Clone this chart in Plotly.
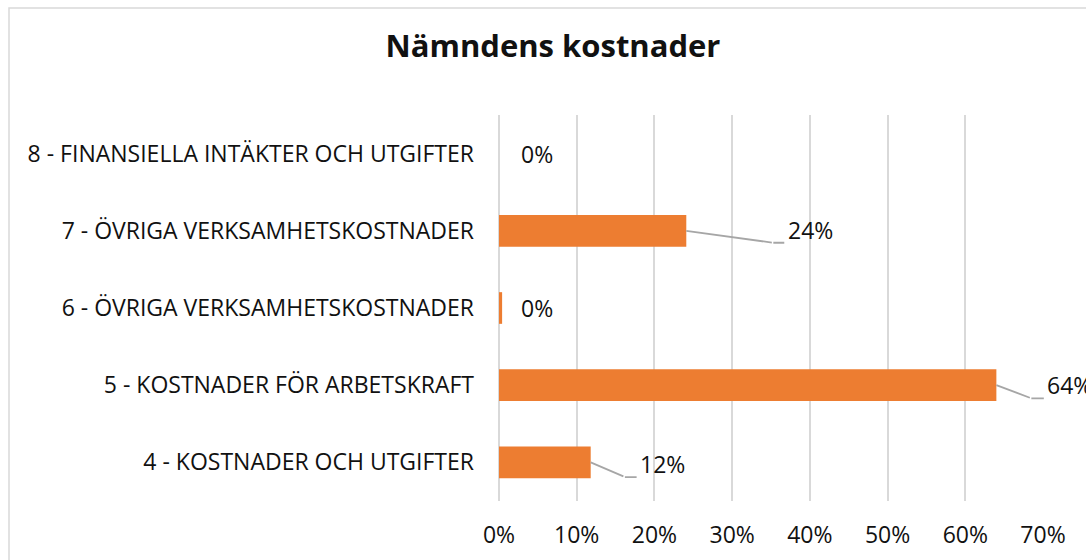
import plotly.graph_objects as go

# ---- data ----
categories = [
    "4 - KOSTNADER OCH UTGIFTER",
    "5 - KOSTNADER FÖR ARBETSKRAFT",
    "6 - ÖVRIGA VERKSAMHETSKOSTNADER",
    "7 - ÖVRIGA VERKSAMHETSKOSTNADER",
    "8 - FINANSIELLA INTÄKTER OCH UTGIFTER",
]
values = [0.118, 0.640, 0.004, 0.241, 0.0]
x_ticks = [0.0, 0.1, 0.2, 0.3, 0.4, 0.5, 0.6, 0.7]
x_tick_labels = ["0%", "10%", "20%", "30%", "40%", "50%", "60%", "70%"]
title_text = "Nämndens kostnader"

# ---- styling / label placement (offsets from bar end, axis units) ----
# (elbow_dx, label_dx, dy); None elbow -> no leader line
label_layout = [
    (0.044, 0.061, -0.19),
    (0.045, 0.063, -0.17),
    (None, 0.022, 0.0),
    (0.112, 0.128, -0.155),
    (None, 0.026, 0.0),
]

W, H = 1086, 560
ML, MR, MT, MB = 499, 43, 115, 59
X_MAX = 0.7
FONT = "Open Sans"
FS = 23
BAR_COLOR = "#ED7D31"
GRID = "#d9d9d9"
LEADER = "#a6a6a6"
TEXT = "#111111"

pw = W - ML - MR
ph = H - MT - MB
px_per_unit = pw / X_MAX

ypos = list(range(len(categories)))

fig = go.Figure()
fig.add_trace(go.Bar(
    x=values, y=ypos, orientation="h",
    marker=dict(color=BAR_COLOR, line=dict(width=0)),
    width=0.41, hoverinfo="skip",
))

annotations = []
for v, yc, (edx, ldx, dy) in zip(values, ypos, label_layout):
    txt = f"{round(v * 100)}%"
    if edx is not None:
        ex, ey = v + edx, yc + dy
        lx = v + ldx
        # diagonal segment: bar end -> elbow
        annotations.append(dict(x=v, y=yc, ax=ex, ay=ey, xref="x", yref="y",
                                axref="x", ayref="y", text="", showarrow=True,
                                arrowhead=0, arrowwidth=1.8, arrowcolor=LEADER,
                                standoff=0, startstandoff=0))
        # horizontal segment: elbow -> label
        annotations.append(dict(x=ex, y=ey, ax=lx, ay=ey, xref="x", yref="y",
                                axref="x", ayref="y", text="", showarrow=True,
                                arrowhead=0, arrowwidth=1.8, arrowcolor=LEADER,
                                standoff=0, startstandoff=0))
        annotations.append(dict(x=ex, y=ey, xref="x", yref="y", text=txt,
                                showarrow=False, xanchor="left", yanchor="bottom",
                                xshift=(ldx - edx) * px_per_unit, yshift=-5,
                                font=dict(family=FONT, size=FS, color=TEXT)))
    else:
        annotations.append(dict(x=v + ldx, y=yc, xref="x", yref="y", text=txt,
                                showarrow=False, xanchor="left", yanchor="middle",
                                font=dict(family=FONT, size=FS, color=TEXT)))

def px_x(p):
    return (p - ML) / pw
def px_y(p):
    return 1 - (p - MT) / ph

fig.update_layout(
    width=W, height=H,
    margin=dict(l=ML, r=MR, t=MT, b=MB, autoexpand=False),
    paper_bgcolor="white", plot_bgcolor="white",
    showlegend=False,
    title=dict(text=f"<b>{title_text}</b>", x=553 / W, xref="container", xanchor="center",
               y=1 - 46 / H, yanchor="middle",
               font=dict(family=FONT, size=31, color=TEXT)),
    font=dict(family=FONT, color=TEXT),
    xaxis=dict(range=[0, X_MAX], tickvals=x_ticks, ticktext=x_tick_labels,
               showgrid=True, gridcolor=GRID, gridwidth=1.5,
               zeroline=True, zerolinecolor=GRID, zerolinewidth=1.5,
               showline=False, ticks="", ticklabelstandoff=18,
               tickfont=dict(family=FONT, size=FS, color=TEXT), fixedrange=True),
    yaxis=dict(range=[-0.5, len(categories) - 0.5], tickvals=ypos, ticktext=categories,
               showgrid=False, zeroline=False, showline=False, ticks="",
               ticklabelstandoff=24,
               tickfont=dict(family=FONT, size=FS, color=TEXT), fixedrange=True),
    annotations=annotations,
    shapes=[dict(type="rect", xref="paper", yref="paper",
                 x0=px_x(9), x1=px_x(W + 50), y0=px_y(H + 50), y1=px_y(8),
                 line=dict(color=GRID, width=1.5), fillcolor="rgba(0,0,0,0)",
                 layer="below")],
)

fig.write_html("out.html", config={"displayModeBar": False},
               post_script="document.body.style.margin='0';document.body.style.overflow='hidden';")
